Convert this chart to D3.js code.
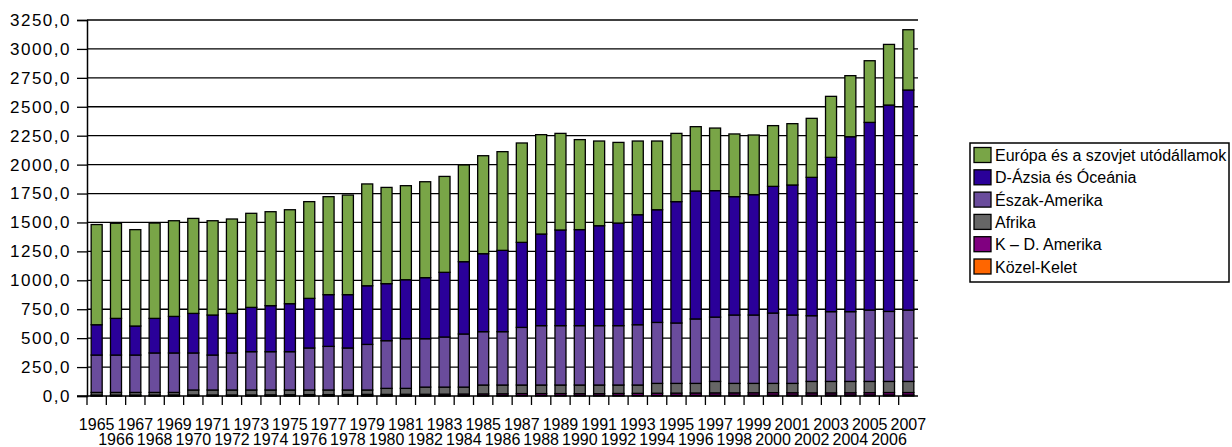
<!DOCTYPE html>
<meta charset="utf-8">
<title>Szénfogyasztás régiónként</title>
<script src="https://d3js.org/d3.v7.min.js"></script>
<style>
    body { margin: 0; background: #fff; }
    svg text { font-family: "Liberation Sans", Arial, sans-serif; fill: #000; }
</style>
<body>
<div id="my_dataviz"></div>
<script>

    // years on the x axis
    var years = d3.range(1965, 2008).map(String);

    // series values (bottom of the stack first)
    var kozelKelet = [1, 1, 1, 1, 1, 1, 1, 1, 1, 1, 2, 2, 2, 2, 2, 2, 2, 2, 3, 3, 3, 3, 4, 4, 4,
        4, 4, 5, 5, 5, 6, 6, 7, 7, 8, 8, 8, 8, 9, 9, 9, 9, 9];
    var kdAmerika = [7, 7, 7, 7, 8, 8, 8, 8, 8, 9, 9, 10, 10, 11, 12, 12, 13, 13, 13, 14, 15, 16, 17, 17, 17,
        16, 16, 17, 18, 19, 19, 20, 20, 20, 20, 21, 20, 19, 18, 19, 20, 21, 21];
    var afrika = [23, 23, 23, 23, 22, 43, 43, 43, 43, 42, 41, 40, 40, 39, 38, 52, 51, 62, 61, 60, 77, 76, 74, 74, 74,
        75, 75, 73, 72, 85, 84, 83, 99, 82, 81, 80, 81, 99, 99, 98, 97, 96, 96];
    var eszakAmerika = [323, 323, 323, 341, 341, 320, 302, 320, 331, 331, 331, 363, 377, 363, 394, 412, 429, 418, 433, 459, 461, 461, 498, 513, 513,
        513, 513, 513, 521, 527, 522, 557, 556, 591, 591, 608, 591, 568, 603, 603, 617, 605, 617];
    var dAzsia = [262, 317, 251, 299, 316, 342, 346, 342, 383, 398, 415, 429, 447, 461, 507, 493, 510, 528, 559, 625, 674, 703, 735, 792, 827,
        830, 864, 887, 951, 974, 1049, 1106, 1093, 1023, 1040, 1095, 1124, 1196, 1334, 1512, 1622, 1784, 1902];
    var europa = [866, 822, 833, 824, 827, 821, 815, 816, 813, 812, 812, 836, 847, 861, 880, 832, 813, 829, 829, 836, 847, 853, 859, 859, 835,
        778, 732, 697, 637, 594, 590, 556, 541, 542, 516, 525, 530, 510, 527, 528, 533, 524, 521];

    var seriesNames = ["Közel-Kelet", "K – D. Amerika", "Afrika", "Észak-Amerika", "D-Ázsia és Óceánia", "Európa és a szovjet utódállamok"];
    var seriesValues = [kozelKelet, kdAmerika, afrika, eszakAmerika, dAzsia, europa];
    var seriesColors = ["#ff6600", "#800080", "#666666", "#6a4c9c", "#2a0099", "#79a547"];

    // y axis ticks
    var yTicks = d3.range(0, 3251, 250);

    // table for d3.stack
    var table = years.map(function (yr, i) {
        var row = { year: yr };
        seriesNames.forEach(function (s, j) { row[s] = seriesValues[j][i]; });
        return row;
    });

    // plot area (window.top is taken, so no "top" here)
    var W = 1232, H = 447;
    var plotL = 87, plotR = 918, plotT = 20, plotB = 396;

    var svg = d3.select("#my_dataviz")
        .append("svg")
        .attr("width", W)
        .attr("height", H);

    var x = d3.scaleBand()
        .domain(years)
        .range([plotL, plotR])
        .paddingInner(0.43)
        .paddingOuter(0.215);

    var y = d3.scaleLinear()
        .domain([0, 3250])
        .range([plotB, plotT]);

    // gridlines
    svg.append("g")
        .selectAll("line")
        .data(yTicks.slice(1))
        .enter()
        .append("line")
        .attr("x1", plotL)
        .attr("x2", plotR)
        .attr("y1", function (d) { return y(d); })
        .attr("y2", function (d) { return y(d); })
        .attr("stroke", "#000")
        .attr("stroke-width", 1.3);

    // stacked bars
    var stacked = d3.stack().keys(seriesNames)(table);

    svg.append("g")
        .selectAll("g")
        .data(stacked)
        .enter()
        .append("g")
        .attr("fill", function (d, i) { return seriesColors[i]; })
        .selectAll("rect")
        .data(function (d) { return d; })
        .enter()
        .append("rect")
        .attr("x", function (d) { return x(d.data.year); })
        .attr("width", x.bandwidth())
        .attr("y", function (d) { return y(d[1]); })
        .attr("height", function (d) { return y(d[0]) - y(d[1]); })
        .attr("stroke", "#000")
        .attr("stroke-width", 1.3);

    // Y axis
    var yAxis = svg.append("g")
        .attr("transform", "translate(" + plotL + ",0)")
        .call(d3.axisLeft(y)
            .tickValues(yTicks)
            .tickSize(10)
            .tickPadding(6)
            .tickFormat(function (d) { return d3.format(".1f")(d).replace(".", ","); }));
    yAxis.select(".domain").attr("stroke", "#000").attr("stroke-width", 1.5);
    yAxis.selectAll(".tick line").attr("stroke", "#000").attr("stroke-width", 1.3);
    yAxis.selectAll("text")
        .attr("font-size", 17)
        .attr("letter-spacing", 1.5)
        .attr("fill", "#000");

    // X axis line, ticks on the band edges
    var step = x.step();
    var edge = function (yr) { return x(yr) - (step - x.bandwidth()) / 2; };

    svg.append("line")
        .attr("x1", plotL - 10)
        .attr("x2", plotR)
        .attr("y1", plotB)
        .attr("y2", plotB)
        .attr("stroke", "#000")
        .attr("stroke-width", 1.5);

    svg.append("g")
        .selectAll("line")
        .data(years)
        .enter()
        .append("line")
        .attr("x1", function (d) { return edge(d); })
        .attr("x2", function (d) { return edge(d); })
        .attr("y1", plotB)
        .attr("y2", plotB + 9)
        .attr("stroke", "#000")
        .attr("stroke-width", 1.3);

    // year labels on two rows
    svg.append("g")
        .selectAll("text")
        .data(years)
        .enter()
        .append("text")
        .attr("x", function (d) { return x(d) + x.bandwidth() / 2; })
        .attr("y", function (d, i) { return i % 2 === 0 ? 430 : 445; })
        .attr("text-anchor", "middle")
        .attr("font-size", 16)
        .text(function (d) { return d; });

    // legend, top series first
    var lx = 970, ly = 143, rowH = 22.3;
    var legend = svg.append("g");
    legend.append("rect")
        .attr("x", lx)
        .attr("y", ly)
        .attr("width", 259)
        .attr("height", 139)
        .attr("fill", "#fff")
        .attr("stroke", "#000")
        .attr("stroke-width", 1.5);

    var order = d3.range(seriesNames.length).reverse();
    var items = legend.selectAll("g.item")
        .data(order)
        .enter()
        .append("g")
        .attr("class", "item")
        .attr("transform", function (d, i) { return "translate(" + lx + "," + (ly + 12 + i * rowH) + ")"; });

    items.append("rect")
        .attr("x", 4)
        .attr("y", -7.5)
        .attr("width", 17)
        .attr("height", 15)
        .attr("fill", function (d) { return seriesColors[d]; })
        .attr("stroke", "#000")
        .attr("stroke-width", 1.3);

    items.append("text")
        .attr("x", 25)
        .attr("y", 6)
        .attr("font-size", 16)
        .text(function (d) { return seriesNames[d]; });

</script>
</body>
